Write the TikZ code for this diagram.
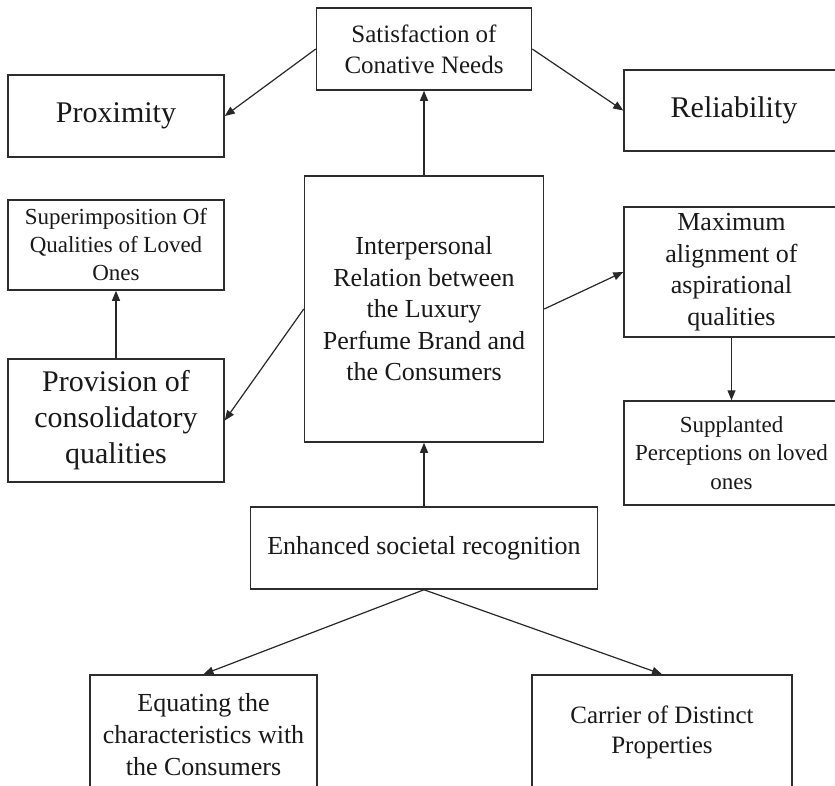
\documentclass[tikz,border=0pt]{standalone}
\usepackage{fontspec}
\setmainfont{Liberation Serif}
\usetikzlibrary{arrows.meta}
\definecolor{boxc}{RGB}{45,45,45}
\definecolor{arrc}{RGB}{40,40,40}
\begin{document}
\begin{tikzpicture}[x=1pt,y=-1pt,
  box/.style={draw=boxc, line width=1.5pt, inner sep=0pt, align=center, text={rgb,255:red,25;green,25;blue,25}},
  arr/.style={draw=arrc, line width=1.2pt, -{Triangle[length=10pt,width=8pt]}},
  fA/.style={font=\fontsize{30}{36}\selectfont},
  fB/.style={font=\fontsize{26}{31.5}\selectfont},
  fC/.style={font=\fontsize{25}{31}\selectfont},
  fD/.style={font=\fontsize{23}{28}\selectfont}
]
\useasboundingbox (0,0) rectangle (835,785);
\clip (0,0) rectangle (835,785);
\fill[white] (0,0) rectangle (835,785);

\node[box, fC, minimum width=215pt, minimum height=82pt] (sat) at (424,49) {Satisfaction of\\Conative Needs};
\node[box, fA, minimum width=216pt, minimum height=82pt] (prox) at (116,116) {Proximity};
\node[box, fA, minimum width=220pt, minimum height=81pt] (rel) at (734,110.5) {Reliability};
\node[box, fD, minimum width=216pt, minimum height=90pt] (sup) at (116,245) {Superimposition Of\\Qualities of Loved\\Ones};
\node[box, fB, minimum width=239pt, minimum height=266pt] (inter) at (424,309) {Interpersonal\\Relation between\\the Luxury\\Perfume Brand and\\the Consumers};
\node[box, fB, minimum width=215pt, minimum height=130pt] (maxa) at (731.5,272) {Maximum\\alignment of\\aspirational\\qualities};
\node[box, fA, minimum width=216pt, minimum height=123pt] (prov) at (116,420.5) {Provision of\\consolidatory\\qualities};
\node[box, font=\fontsize{23}{28.5}\selectfont, minimum width=215pt, minimum height=104pt] (supp) at (731.5,453) {Supplanted\\Perceptions on loved\\ones};
\node[box, fB, minimum width=347pt, minimum height=82pt] (enh) at (424,548) {Enhanced societal recognition};
\node[box, font=\fontsize{26}{32}\selectfont, minimum width=227pt, minimum height=120pt] (eq) at (203.5,735) {Equating the\\characteristics with\\the Consumers};
\node[box, font=\fontsize{25}{30}\selectfont, minimum width=260pt, minimum height=114pt] (car) at (662,732) {Carrier of Distinct\\Properties};

\draw[arr] (inter.north) -- (sat.south);
\draw[arr] (sat.west) -- (prox.east);
\draw[arr] (sat.east) -- (rel.west);
\draw[arr] (prov.north) -- (sup.south);
\draw[arr] (inter.west) -- (prov.east);
\draw[arr] (inter.east) -- (maxa.west);
\draw[arr] (maxa.south) -- (supp.north);
\draw[arr] (enh.north) -- (inter.south);
\draw[arr] (enh.south) -- (eq.north);
\draw[arr] (enh.south) -- (car.north);
\end{tikzpicture}
\end{document}
